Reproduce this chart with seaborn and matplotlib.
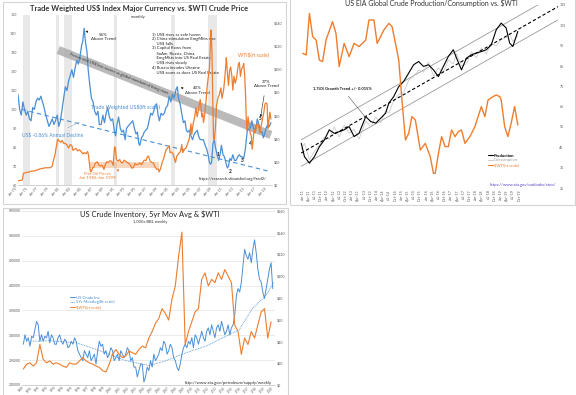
import matplotlib
matplotlib.use("Agg")
import matplotlib.pyplot as plt
from matplotlib.lines import Line2D
from matplotlib.patches import Rectangle
import matplotlib.dates as mdates
import numpy as np
import pandas as pd
import seaborn as sns

BLUE = "#4a8fd6"
ORANGE = "#ee7d2e"
GREY_TXT = "#595959"

# ---- panel 1: trade weighted US$ (left) vs WTI monthly (right) ----
usd_years = [1973.0, 1973.3, 1973.6, 1973.9, 1974.2, 1974.5, 1974.8, 1975.1, 1975.4, 1975.7,
             1976.0, 1976.3, 1976.6, 1976.9, 1977.2, 1977.5, 1977.8, 1978.1, 1978.4, 1978.7,
             1979.0, 1979.3, 1979.6, 1979.9, 1980.2, 1980.5, 1980.8, 1981.1, 1981.4, 1981.7,
             1982.0, 1982.3, 1982.6, 1982.9, 1983.2, 1983.5, 1983.8, 1984.1, 1984.4, 1984.7,
             1984.9, 1985.15, 1985.4, 1985.7, 1985.9, 1986.2, 1986.5, 1986.8, 1987.1, 1987.4,
             1987.7, 1987.95, 1988.3, 1988.6, 1988.9, 1989.2, 1989.5, 1989.8, 1990.1, 1990.4,
             1990.7, 1990.95, 1991.2, 1991.5, 1991.8, 1992.1, 1992.4, 1992.7, 1992.95, 1993.2,
             1993.5, 1993.8, 1994.1, 1994.4, 1994.7, 1994.95, 1995.2, 1995.4, 1995.7, 1995.95,
             1996.2, 1996.5, 1996.8, 1997.1, 1997.4, 1997.7, 1997.95, 1998.2, 1998.5, 1998.75,
             1999.0, 1999.3, 1999.6, 1999.9, 2000.2, 2000.5, 2000.8, 2001.1, 2001.4, 2001.7,
             2001.95, 2002.1, 2002.3, 2002.5, 2002.8, 2003.1, 2003.4, 2003.7, 2003.95, 2004.2,
             2004.5, 2004.8, 2005.1, 2005.4, 2005.7, 2005.95, 2006.2, 2006.5, 2006.8, 2007.1,
             2007.4, 2007.7, 2007.95, 2008.2, 2008.4, 2008.6, 2008.85, 2009.1, 2009.3, 2009.6,
             2009.9, 2010.2, 2010.4, 2010.7, 2010.95, 2011.2, 2011.5, 2011.7, 2011.95, 2012.2,
             2012.5, 2012.8, 2013.1, 2013.4, 2013.7, 2013.95, 2014.2, 2014.5, 2014.8, 2014.95,
             2015.2, 2015.5, 2015.8, 2016.0, 2016.3, 2016.6, 2016.9, 2017.0, 2017.3, 2017.6,
             2017.9, 2018.1, 2018.35, 2018.6, 2018.9, 2019.2, 2019.5]
usd_index = [108, 100, 97, 104, 100, 97, 99, 95, 94, 101,
             100, 104, 106, 105, 107, 104, 101, 97, 94, 91,
             93, 95, 92, 94, 97, 91, 94, 100, 106, 112,
             110, 115, 118, 121, 117, 122, 126, 124, 128, 134,
             136, 143, 136, 130, 121, 113, 106, 104, 99, 97,
             99, 92, 92, 97, 93, 98, 101, 96, 94, 95,
             89, 86, 92, 96, 90, 88, 89, 84, 90, 91,
             92, 93, 94, 90, 87, 88, 82, 81, 85, 86,
             88, 89, 90, 94, 98, 97, 99, 102, 103, 97,
             94, 98, 97, 98, 101, 102, 107, 104, 108, 106,
             109, 111, 112, 106, 103, 98, 93, 94, 89, 88,
             89, 86, 84, 87, 88, 89, 86, 84, 84, 84,
             81, 79, 76, 72, 71, 72, 82, 84, 80, 76,
             73, 77, 81, 76, 75, 72, 69, 70, 74, 73,
             76, 73, 73, 75, 76, 75, 75, 74, 79, 83,
             90, 89, 91, 94, 90, 89, 93, 95, 92, 88,
             88, 85, 87, 90, 92, 91, 93]

wti_m_years = [1973.0, 1973.8, 1974.0, 1974.5, 1975.0, 1975.5, 1976.0, 1976.5, 1977.0, 1977.5,
               1978.0, 1978.5, 1979.0, 1979.3, 1979.5, 1979.8, 1980.0, 1980.3, 1980.6, 1980.9,
               1981.1, 1981.4, 1981.7, 1982.0, 1982.3, 1982.6, 1982.9, 1983.1, 1983.4, 1983.7,
               1984.0, 1984.3, 1984.6, 1984.9, 1985.2, 1985.5, 1985.8, 1985.95, 1986.1, 1986.3,
               1986.5, 1986.7, 1986.9, 1987.1, 1987.4, 1987.6, 1987.9, 1988.2, 1988.5, 1988.8,
               1989.0, 1989.3, 1989.6, 1989.9, 1990.2, 1990.5, 1990.75, 1990.9, 1991.1, 1991.4,
               1991.7, 1991.95, 1992.2, 1992.5, 1992.8, 1993.1, 1993.4, 1993.7, 1993.95, 1994.2,
               1994.5, 1994.8, 1995.1, 1995.4, 1995.7, 1995.95, 1996.2, 1996.5, 1996.8, 1997.0,
               1997.3, 1997.6, 1997.9, 1998.2, 1998.5, 1998.8, 1998.95, 1999.2, 1999.5, 1999.8,
               2000.0, 2000.2, 2000.5, 2000.8, 2000.95, 2001.2, 2001.5, 2001.8, 2001.95, 2002.2,
               2002.5, 2002.8, 2002.95, 2003.1, 2003.3, 2003.6, 2003.9, 2004.2, 2004.5, 2004.8,
               2004.95, 2005.2, 2005.5, 2005.7, 2005.95, 2006.2, 2006.5, 2006.8, 2006.95, 2007.1,
               2007.4, 2007.6, 2007.8, 2007.95, 2008.2, 2008.4, 2008.5, 2008.65, 2008.8, 2008.95,
               2009.1, 2009.3, 2009.5, 2009.8, 2010.0, 2010.3, 2010.5, 2010.8, 2010.95, 2011.2,
               2011.3, 2011.5, 2011.7, 2011.9, 2012.1, 2012.3, 2012.5, 2012.7, 2012.95, 2013.2,
               2013.5, 2013.7, 2013.9, 2014.1, 2014.4, 2014.5, 2014.7, 2014.85, 2014.95, 2015.1,
               2015.3, 2015.5, 2015.7, 2015.9, 2016.05, 2016.2, 2016.4, 2016.6, 2016.9, 2017.1,
               2017.4, 2017.5, 2017.7, 2017.95, 2018.2, 2018.4, 2018.6, 2018.8, 2018.95, 2019.1,
               2019.3, 2019.5]
wti_m_price = [3.6, 4.3, 10.1, 10.8, 11.2, 12.0, 12.2, 12.9, 13.9, 14.3,
               14.9, 14.9, 15.0, 16.5, 21, 26, 32, 39.5, 38, 37,
               38.5, 36, 36, 34.5, 32, 35, 34, 30, 31, 31.5,
               29.5, 30.5, 29, 27, 28, 27, 29, 26, 20, 12,
               11.5, 15, 15, 18, 19.5, 20, 17, 16.5, 17, 13.5,
               17, 20, 19.5, 21, 20.5, 17, 33, 32, 22, 20.5,
               22, 19.5, 19, 21.5, 20.5, 19.5, 18.5, 17, 14.5, 15,
               18.5, 17.5, 18, 19, 17.5, 19.5, 21.5, 21, 24.5, 25,
               20.5, 19.5, 19, 15.5, 13.5, 14, 11.3, 14, 19.5, 23,
               27, 30, 32, 34, 28, 28.5, 27, 22, 19.5, 25,
               27, 28.5, 30, 35, 28, 31, 32, 36, 40, 53,
               44, 53, 59, 67, 59, 66, 74, 59, 62, 54,
               64, 74, 86, 92, 101, 125, 134, 117, 76, 41,
               39, 50, 69, 76, 78, 84, 75, 82, 89, 103,
               110, 97, 86, 99, 102, 95, 82, 94, 88, 93,
               104, 106, 94, 100, 103, 105, 93, 76, 59, 47,
               59, 51, 45, 42, 31, 37, 48, 45, 52, 53,
               48, 45, 51, 57, 63, 70, 71, 70, 49, 54,
               63, 57]

recessions = [(1973.9, 1975.2), (1980.0, 1980.5), (1981.5, 1982.9),
              (1990.6, 1991.2), (2001.2, 2001.9), (2007.9, 2009.5)]
usd_trend_years = [1973.7, 2019.5]
usd_trend_vals = [100, 67]
band_years = [1980.4, 2019.5]
band_vals = [131.5, 86.5]
flat_years = [1986.0, 1999.0]
flat_low, flat_high = 15, 20

# ---- panel 2: EIA global production / consumption vs WTI ----
eia_years = [2010.95, 2011.08, 2011.28, 2011.48, 2011.68, 2011.88, 2012.08, 2012.28, 2012.48, 2012.68,
             2012.88, 2013.08, 2013.28, 2013.55, 2013.75, 2013.95, 2014.15, 2014.35, 2014.48, 2014.68,
             2014.88, 2015.08, 2015.28, 2015.48, 2015.68, 2015.88, 2016.08, 2016.28, 2016.48, 2016.68,
             2016.88, 2017.08, 2017.21, 2017.41, 2017.61, 2017.81, 2018.01, 2018.21, 2018.41, 2018.61,
             2018.81, 2019.01, 2019.21, 2019.35, 2019.48, 2019.68]
production = [47.0, 40.4, 37.2, 40.4, 45.3, 48.6, 53.6, 51.9, 52.7, 53.6,
              55.2, 50.3, 51.9, 60.1, 57.7, 56.9, 59.3, 61.8, 66.7, 70.0,
              74.9, 77.4, 81.5, 85.6, 87.2, 84.8, 85.6, 83.1, 79.8, 84.8,
              89.7, 93.0, 88.9, 83.1, 88.9, 90.5, 91.4, 92.1, 93.0, 95.4,
              102.8, 106.1, 103.7, 96.3, 94.6, 102.0]
consumption = [44, 47, 39, 43, 46, 50, 49, 55, 50, 56,
               52, 54, 49, 58, 55, 60, 57, 63, 62, 68,
               71, 72, 78, 80, 83, 82, 87, 80, 84, 82,
               88, 86, 91, 85, 86, 92, 89, 94, 91, 96,
               95, 98, 99, 101, 97, 100]
wti_eia_years = [2011.01, 2011.15, 2011.28, 2011.41, 2011.55, 2011.68, 2011.81, 2011.95, 2012.21, 2012.35,
                 2012.48, 2012.68, 2012.88, 2013.08, 2013.28, 2013.55, 2013.68, 2013.88, 2014.01, 2014.15,
                 2014.28, 2014.48, 2014.61, 2014.75, 2014.88, 2015.01, 2015.15, 2015.28, 2015.41, 2015.55,
                 2015.75, 2015.95, 2016.15, 2016.28, 2016.35, 2016.48, 2016.61, 2016.75, 2016.88, 2017.01,
                 2017.15, 2017.28, 2017.41, 2017.55, 2017.75, 2017.95, 2018.21, 2018.35, 2018.48, 2018.68,
                 2018.81, 2018.95, 2019.01, 2019.15, 2019.28, 2019.41, 2019.55, 2019.68]
wti_eia_price = [89.8, 89.0, 109.8, 98.2, 96.5, 86.5, 85.7, 96.5, 105.7, 99.8,
                 83.2, 94.8, 88.2, 94.8, 93.2, 96.5, 106.5, 106.5, 94.8, 98.2,
                 101.5, 104.8, 103.2, 94.8, 86.5, 66.5, 46.5, 49.8, 58.2, 56.5,
                 41.5, 44.8, 38.2, 29.8, 29.8, 39.8, 48.2, 43.2, 43.2, 51.5,
                 48.2, 50.7, 51.5, 44.8, 48.2, 53.2, 63.2, 58.2, 66.5, 68.2,
                 69.0, 68.2, 66.5, 53.2, 48.2, 54.8, 63.2, 54.0]
growth_years = [2010.95, 2021.3]
growth_trend = [42.2, 114.2]
growth_band = 6.5

# ---- panel 3: US crude inventory (weekly, sampled) vs WTI ----
crude_inv = [322000, 341000, 328000, 335000, 318000, 338000, 335000, 351000, 368000, 361000,
             328000, 341000, 328000, 338000, 335000, 348000, 325000, 341000, 335000, 322000,
             322000, 335000, 341000, 328000, 322000, 332000, 328000, 315000, 318000, 328000,
             322000, 335000, 328000, 309000, 302000, 295000, 289000, 309000, 302000, 295000,
             309000, 289000, 295000, 302000, 282000, 309000, 328000, 318000, 322000, 302000,
             309000, 295000, 302000, 315000, 309000, 289000, 295000, 302000, 289000, 309000,
             302000, 295000, 302000, 315000, 309000, 289000, 295000, 276000, 276000, 256000,
             269000, 282000, 282000, 246000, 256000, 276000, 269000, 289000, 276000, 302000,
             289000, 295000, 302000, 315000, 309000, 328000, 322000, 302000, 309000, 322000,
             315000, 295000, 289000, 276000, 269000, 282000, 302000, 315000, 322000, 315000,
             328000, 322000, 335000, 315000, 341000, 335000, 322000, 335000, 348000, 335000,
             328000, 348000, 355000, 341000, 361000, 348000, 335000, 355000, 361000, 348000,
             368000, 355000, 341000, 348000, 361000, 341000, 355000, 361000, 381000, 420000,
             434000, 427000, 447000, 480000, 513000, 500000, 493000, 506000, 486000, 513000,
             532000, 506000, 473000, 453000, 447000, 427000, 414000, 434000, 453000, 473000,
             486000, 434000]
wti_weekly = [14.7, 19.2, 20.4, 17.4, 20.4, 37.2, 23.7, 20.4, 22.2, 19.2,
              20.4, 19.2, 17.4, 16.2, 20.4, 19.2, 19.2, 22.2, 25.2, 22.2,
              20.4, 19.2, 17.4, 16.2, 13.2, 11.9, 19.2, 28.2, 32.7, 28.2,
              25.2, 26.7, 31.2, 29.7, 28.2, 32.7, 35.7, 34.2, 43.2, 49.2,
              56.7, 61.2, 70.2, 65.7, 59.7, 79.1, 91.1, 118.1, 140.6, 37.2,
              49.2, 58.2, 67.2, 70.2, 97.1, 103.1, 91.1, 97.1, 94.1, 103.1,
              97.1, 106.1, 100.1, 94.1, 55.2, 49.2, 28.2, 43.2, 37.2, 49.2,
              43.2, 55.2, 67.2, 70.2, 43.2, 58.2]
mov_avg_dates = ["1989-10", "1992-01", "1995-05", "1998-04", "2001-07", "2004-06", "2006-07",
                 "2009-01", "2011-06", "2014-05", "2015-08", "2017-04", "2018-12", "2019-12"]
mov_avg = [328000, 329000, 325000, 309000, 289000, 279000, 289000,
           305000, 318000, 341000, 351000, 394000, 420000, 447000]

notes_text = ("1) US$ rises as safe haven\n"
              "2) China stimulation EmgMkts rise\n"
              "    US$ falls\n"
              "3) Capital flows from\n"
              "    SoAm, Russia, China,\n"
              "    EmgMkts into US Real Estate\n"
              "    US$ rises slowly\n"
              "4) Russia invades Ukraine\n"
              "    US$ soars as does US Real Estate")


def esc(s):
    # keep dollar signs literal (no mathtext)
    return s.replace("$", r"\$")


sns.set_theme(style="white")
plt.rcParams["font.family"] = ["Lato", "DejaVu Sans"]

fig = plt.figure(figsize=(5.76, 3.95), dpi=100, facecolor="white")


def px_axes(x0, y0, x1, y1):
    return fig.add_axes([x0 / 576, 1 - y1 / 395, (x1 - x0) / 576, (y1 - y0) / 395])


def frame(x0, y0, x1, y1):
    fig.add_artist(Rectangle((x0 / 576, 1 - y1 / 395), (x1 - x0) / 576, (y1 - y0) / 395,
                             transform=fig.transFigure, fill=False,
                             edgecolor="#d4d4d4", linewidth=0.8))


def style_axes(ax, bottom=True):
    for side in ["top", "left", "right"]:
        ax.spines[side].set_visible(False)
    ax.spines["bottom"].set_visible(bottom)
    ax.spines["bottom"].set_color("#bfbfbf")
    ax.spines["bottom"].set_linewidth(0.5)
    ax.tick_params(length=0, pad=1, labelsize=2.6, colors=GREY_TXT)
    ax.set_xlabel("")
    ax.set_ylabel("")
    ax.set_facecolor("none")


def year_label(y):
    months = ["Jan", "Feb", "Mar", "Apr", "May", "Jun", "Jul", "Aug", "Sep", "Oct", "Nov", "Dec"]
    yr = int(y)
    m = int(round((y - yr) * 12)) % 12
    return f"{months[m]}-{yr % 100:02d}"


frame(3, 2, 286, 204)
frame(290, -2, 575, 205)
frame(3, 208, 288, 398)

# ================= panel 1 =================
ax1 = px_axes(18, 15, 272, 185)
ax1.set_xlim(1973, 2019.7)
ax1.set_ylim(60, 150)
for a, b in recessions:
    ax1.axvspan(a, b, color="#e8e8e8", lw=0, zorder=0)
ax1.plot(band_years, band_vals, color="#a9a9a9", lw=6, alpha=0.8,
         solid_capstyle="butt", zorder=1)
ax1.plot(usd_trend_years, usd_trend_vals, color=BLUE, lw=0.8, ls=(0, (4, 3)), zorder=2)
sns.lineplot(x=usd_years, y=usd_index, ax=ax1, color=BLUE, linewidth=0.9, zorder=3)
ax1.set_yticks(range(60, 151, 10))
xt = list(range(1973, 2020, 2))
ax1.set_xticks(xt)
ax1.set_xticklabels([year_label(y) for y in xt], rotation=45, ha="right")
style_axes(ax1)

ax1b = ax1.twinx()
ax1b.set_ylim(0, 147)
ax1b.fill_between(flat_years, flat_low, flat_high, color=ORANGE, alpha=0.3, lw=0)
sns.lineplot(x=wti_m_years, y=wti_m_price, ax=ax1b, color=ORANGE, linewidth=0.9)
ax1b.set_yticks(range(0, 141, 20))
ax1b.set_yticklabels([esc(f"${v}") for v in range(0, 141, 20)])
style_axes(ax1b, bottom=False)

fig.text(139 / 576, 1 - 9 / 395, esc("Trade Weighted US$ Index Major Currency vs. $WTI Crude Price"),
         ha="center", va="center", fontsize=5.4, fontweight="bold", color="#333333")
fig.text(138 / 576, 1 - 17 / 395, "monthly", ha="center", va="center", fontsize=3, color="#333333")

ax1.text(1991.5, 118.8, esc("Forces end US$ less severe as global standard of living rises"),
         rotation=-21.8, ha="center", va="center", fontsize=3, color="#333333",
         rotation_mode="anchor", zorder=4)
ax1.annotate("56%\nAbove Trend", xy=(1985.4, 141.5), xytext=(1988.7, 138.3),
             fontsize=3.2, ha="center", va="center", color="#222222",
             arrowprops=dict(arrowstyle="-|>", lw=0.4, color="#222222", mutation_scale=3,
                             shrinkA=6, shrinkB=0))
ax1.annotate("40%\nAbove Trend", xy=(2002.9, 111.5), xytext=(2006.0, 110.0),
             fontsize=3.2, ha="center", va="center", color="#222222",
             arrowprops=dict(arrowstyle="-|>", lw=0.4, color="#222222", mutation_scale=3,
                             shrinkA=6, shrinkB=0))
ax1.annotate("37%\nAbove Trend", xy=(2017.6, 96), xytext=(2018.6, 113.5),
             fontsize=3.2, ha="center", va="center", color="#222222",
             arrowprops=dict(arrowstyle="-|>", lw=0.4, color="#222222", mutation_scale=3,
                             shrinkA=3, shrinkB=0))
ax1.text(1997.7, 141, esc(notes_text), fontsize=3.1, ha="left", va="top", color="#222222",
         linespacing=1.25)
ax1.text(1992.7, 101.3, esc("Trade Weighted US$(lft scale)"), fontsize=3.8, color=BLUE,
         ha="center", va="center")
ax1.annotate(esc("US$ -0.86% Annual Decline"), xy=(1984.3, 93.2), xytext=(1979.3, 86.5),
             fontsize=3.6, color=BLUE, ha="center", va="center",
             arrowprops=dict(arrowstyle="-", lw=0.4, color="#8fa7bf", shrinkA=2, shrinkB=0))
ax1.text(2016.2, 129.3, esc("WTI$(rt scale)"), fontsize=3.6, color=ORANGE, ha="center", va="center")
ax1.text(1987.6, 64.8, "Flat Oil Prices\nJan 1986-Jan 1999", fontsize=3.2, color=ORANGE,
         ha="center", va="center")
ax1.annotate("", xy=(1991.6, 68.4), xytext=(1990.9, 66.6),
             arrowprops=dict(arrowstyle="-|>", lw=0.4, color=ORANGE, mutation_scale=3))
for num, (yx, yv) in enumerate([(2009.7, 76.4), (2012.1, 66.9), (2014.3, 73.2),
                                (2015.8, 82.2), (2017.6, 95.0)], start=1):
    ax1.text(yx, yv, str(num), fontsize=3.4, fontweight="bold", color="#111111",
             ha="center", va="center")
ax1.text(2012.5, 63.3, "https://research.stlouisfed.org/fred2/", fontsize=3, color="#222222",
         ha="center", va="center")

# ================= panel 2 =================
ax2 = px_axes(300, 5, 558, 188)
ax2.set_xlim(2010.9, 2021.3)
ax2.set_ylim(25, 115)
ax2.plot(growth_years, [v + growth_band for v in growth_trend], color="#9a9a9a", lw=0.6)
ax2.plot(growth_years, [v - growth_band for v in growth_trend], color="#9a9a9a", lw=0.6)
sns.lineplot(x=eia_years, y=consumption, ax=ax2, color="#c4c4c4", linewidth=0.5)
sns.lineplot(x=eia_years, y=production, ax=ax2, color="black", linewidth=0.8)
ax2.plot(growth_years, growth_trend, color="black", lw=0.8, ls=(0, (3, 2)))
xt2 = np.arange(2011.0, 2019.76, 0.25)
ax2.set_xticks(xt2)
ax2.set_xticklabels([year_label(y) for y in xt2], rotation=90, fontsize=2.2)

ax2b = ax2.twinx()
ax2b.set_ylim(22.5, 114)
sns.lineplot(x=wti_eia_years, y=wti_eia_price, ax=ax2b, color=ORANGE, linewidth=1.0)
ax2b.set_yticks([])
style_axes(ax2b, bottom=False)

# twinx moves the host ticks to the left, put production scale back on the right
ax2.yaxis.tick_right()
ax2.set_yticks(range(25, 116, 10))
style_axes(ax2)
ax2.spines["bottom"].set_visible(False)

fig.text(431 / 576, 1 - 3 / 395, esc("US EIA Global Crude Production/Consumption vs. $WTI"),
         ha="center", va="center", fontsize=5.0, color="#333333")
ax2.annotate("1.74% Growth Trend +/- 0.015%", xy=(2013.56, 59.5), xytext=(2012.6, 73.8),
             fontsize=2.9, fontweight="bold", ha="center", va="center", color="#111111",
             arrowprops=dict(arrowstyle="-", lw=0.4, color="#555555", shrinkA=2, shrinkB=0))
leg2 = ax2b.legend(handles=[Line2D([], [], color="black", lw=0.8),
                            Line2D([], [], color="#c4c4c4", lw=0.6),
                            Line2D([], [], color=ORANGE, lw=0.8)],
                   labels=["Production", "Consumption", esc("$WTI(rt scale)")],
                   labelcolor=["black", "#a0a0a0", ORANGE], fontsize=3, frameon=False,
                   handlelength=1.3, handletextpad=0.2, labelspacing=0.15,
                   loc="upper left", bbox_to_anchor=(484 / 576, 1 - 150 / 395),
                   bbox_transform=fig.transFigure)
leg2.get_texts()[0].set_fontweight("bold")
fig.text(523 / 576, 1 - 185 / 395, "https://www.eia.gov/outlooks/steo/", ha="center",
         va="center", fontsize=3, color="#5b3fc4")

# ================= panel 3 =================
ax3 = px_axes(22, 211, 275, 385)
inv_dates = pd.date_range("1988-10-01", periods=len(crude_inv), freq="75D")
wti_dates = pd.date_range("1988-10-01", periods=len(wti_weekly), freq="150D")
ma_dates = pd.to_datetime(mov_avg_dates)
ax3.set_ylim(240000, 590000)
ax3.set_yticks(range(240000, 590001, 50000))
ax3.grid(axis="y", color="#e3e3e3", lw=0.5)
sns.lineplot(x=inv_dates, y=crude_inv, ax=ax3, color=BLUE, linewidth=0.7)
ax3.plot(ma_dates, mov_avg, color=BLUE, lw=0.6, ls=(0, (1, 1)))
ax3.set_xlim(pd.Timestamp("1988-08-01"), pd.Timestamp("2020-01-15"))
ax3.xaxis.set_major_locator(mdates.YearLocator())
ax3.xaxis.set_major_formatter(mdates.DateFormatter("%Y"))
plt.setp(ax3.get_xticklabels(), rotation=45, ha="right")
style_axes(ax3)
ax3.tick_params(axis="y", labelsize=2.4)
ax3.tick_params(axis="x", labelsize=2.1, pad=0.5)

ax3b = ax3.twinx()
ax3b.set_ylim(0, 160)
sns.lineplot(x=wti_dates, y=wti_weekly, ax=ax3b, color=ORANGE, linewidth=0.8)
ax3b.set_yticks(range(0, 161, 20))
ax3b.set_yticklabels([esc(f"${v}") for v in range(0, 161, 20)])
style_axes(ax3b, bottom=False)

fig.text(150 / 576, 1 - 214 / 395, esc("US Crude Inventory, 5yr Mov Avg & $WTI"),
         ha="center", va="center", fontsize=5.4, color="#222222")
fig.text(150 / 576, 1 - 222 / 395, "1,000x BBL weekly", ha="center", va="center",
         fontsize=3, color="#333333")
ax3.legend(handles=[Line2D([], [], color=BLUE, lw=0.7),
                    Line2D([], [], color=BLUE, lw=0.6, ls=(0, (1, 1))),
                    Line2D([], [], color=ORANGE, lw=0.7)],
           labels=["US Crude Inv", "5Yr MovAvg(lft scale)", esc("$WTI(rt scale)")],
           labelcolor=[BLUE, BLUE, ORANGE], fontsize=3, frameon=False,
           handlelength=1.3, handletextpad=0.2, labelspacing=0.15,
           loc="upper left", bbox_to_anchor=(66 / 576, 1 - 292 / 395),
           bbox_transform=fig.transFigure)
fig.text(228 / 576, 1 - 383 / 395, "http://www.eia.gov/petroleum/supply/weekly",
         ha="center", va="center", fontsize=3.1, color="#222222")

fig.savefig("out.png", dpi=100, facecolor="white")
